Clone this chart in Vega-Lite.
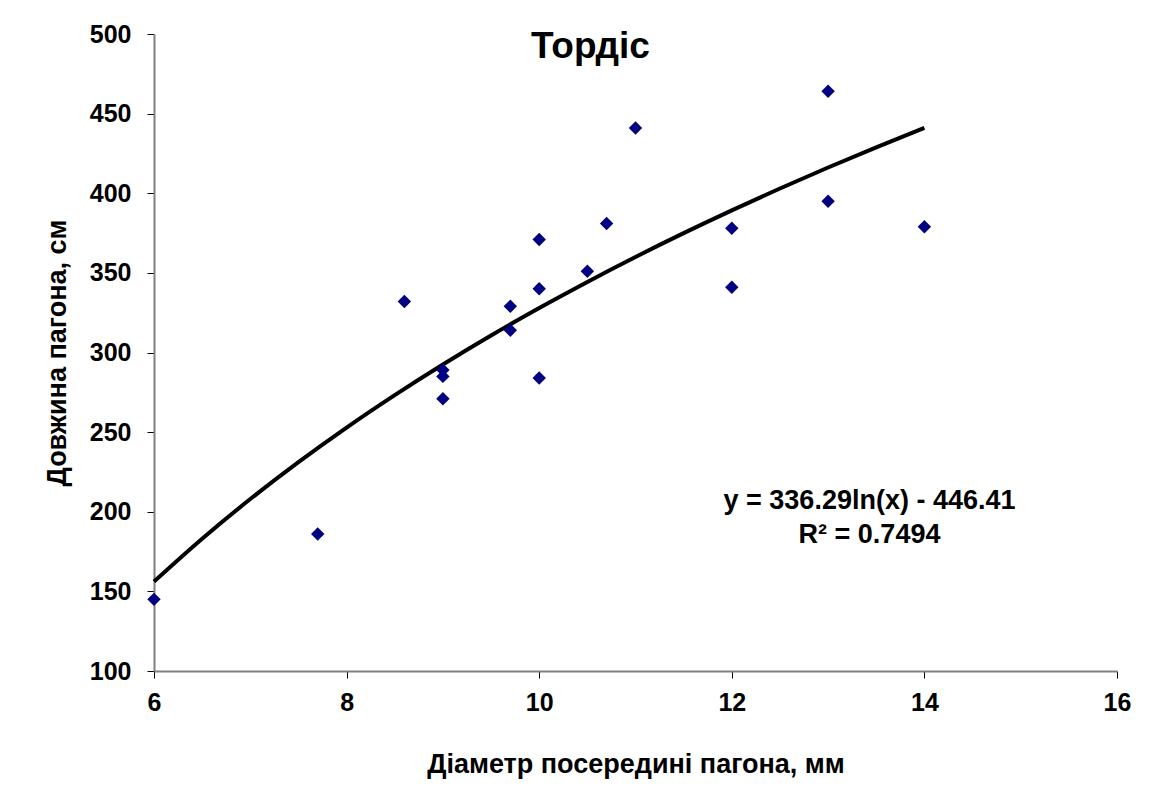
{
  "$schema": "https://vega.github.io/schema/vega-lite/v6.json",
  "width": 963,
  "height": 637,
  "autosize": "none",
  "padding": {"left": 154, "top": 34, "right": 36, "bottom": 120},
  "background": "white",
  "title": {"text": "Тордіс", "offset": -44, "dx": -45, "fontSize": 37, "font": "Liberation Sans", "fontWeight": "bold", "color": "black"},
  "datasets": {
    "pts": [
      {"d": 6, "l": 145}, {"d": 7.7, "l": 186}, {"d": 8.6, "l": 332},
      {"d": 9, "l": 289}, {"d": 9, "l": 285}, {"d": 9, "l": 271},
      {"d": 9.7, "l": 329}, {"d": 9.7, "l": 314},
      {"d": 10, "l": 371}, {"d": 10, "l": 340}, {"d": 10, "l": 284},
      {"d": 10.5, "l": 351}, {"d": 10.7, "l": 381}, {"d": 11, "l": 441},
      {"d": 12, "l": 378}, {"d": 12, "l": 341},
      {"d": 13, "l": 464}, {"d": 13, "l": 395}, {"d": 14, "l": 379}
    ],
    "trend": [
      {"d": 6, "l": 156.14}, {"d": 6.5, "l": 183.06}, {"d": 7, "l": 207.98},
      {"d": 7.5, "l": 231.18}, {"d": 8, "l": 252.89}, {"d": 8.5, "l": 273.27},
      {"d": 9, "l": 292.5}, {"d": 9.5, "l": 310.68}, {"d": 10, "l": 327.93},
      {"d": 10.5, "l": 344.33}, {"d": 11, "l": 359.98}, {"d": 11.5, "l": 374.93},
      {"d": 12, "l": 389.24}, {"d": 12.5, "l": 402.97}, {"d": 13, "l": 416.16},
      {"d": 13.5, "l": 428.85}, {"d": 14, "l": 441.08}
    ],
    "labels": [
      {"d": 13.43, "l": 206.5, "t": "y = 336.29ln(x) - 446.41"},
      {"d": 13.43, "l": 185.5, "t": "R² = 0.7494"}
    ]
  },
  "layer": [
    {
      "data": {"name": "trend"},
      "mark": {"type": "line", "color": "black", "strokeWidth": 4, "interpolate": "monotone"},
      "encoding": {
        "x": {"field": "d", "type": "quantitative", "scale": {"domain": [6, 16], "zero": false, "nice": false},
          "axis": {"title": "Діаметр посередині пагона, мм", "values": [6, 8, 10, 12, 14, 16], "format": "d", "grid": false, "domainColor": "#808080", "domainWidth": 2, "tickColor": "black", "tickSize": 7, "labelPadding": 12, "labelFontSize": 25, "labelFont": "Liberation Sans", "labelFontWeight": "bold", "labelColor": "black", "titleFont": "Liberation Sans", "titleFontSize": 27, "titleFontWeight": "bold", "titleColor": "black", "titlePadding": 36, "labelFlush": false}},
        "y": {"field": "l", "type": "quantitative", "scale": {"domain": [100, 500], "zero": false, "nice": false},
          "axis": {"title": "Довжина пагона, см", "values": [100, 150, 200, 250, 300, 350, 400, 450, 500], "format": "d", "grid": false, "domainColor": "#808080", "domainWidth": 2, "tickColor": "black", "tickSize": 7, "labelPadding": 16, "labelFontSize": 25, "labelFont": "Liberation Sans", "labelFontWeight": "bold", "labelColor": "black", "titleFont": "Liberation Sans", "titleFontSize": 27, "titleFontWeight": "bold", "titleColor": "black", "titlePadding": 18, "labelFlush": false}}
      }
    },
    {
      "data": {"name": "pts"},
      "mark": {"type": "point", "shape": "diamond", "filled": true, "color": "#000080", "size": 180, "opacity": 1},
      "encoding": {
        "x": {"field": "d", "type": "quantitative"},
        "y": {"field": "l", "type": "quantitative"}
      }
    },
    {
      "data": {"name": "labels"},
      "mark": {"type": "text", "font": "Liberation Sans", "fontWeight": "bold", "fontSize": 27, "color": "black", "align": "center", "baseline": "middle"},
      "encoding": {
        "x": {"field": "d", "type": "quantitative"},
        "y": {"field": "l", "type": "quantitative"},
        "text": {"field": "t"}
      }
    }
  ],
  "config": {"view": {"stroke": null}}
}
